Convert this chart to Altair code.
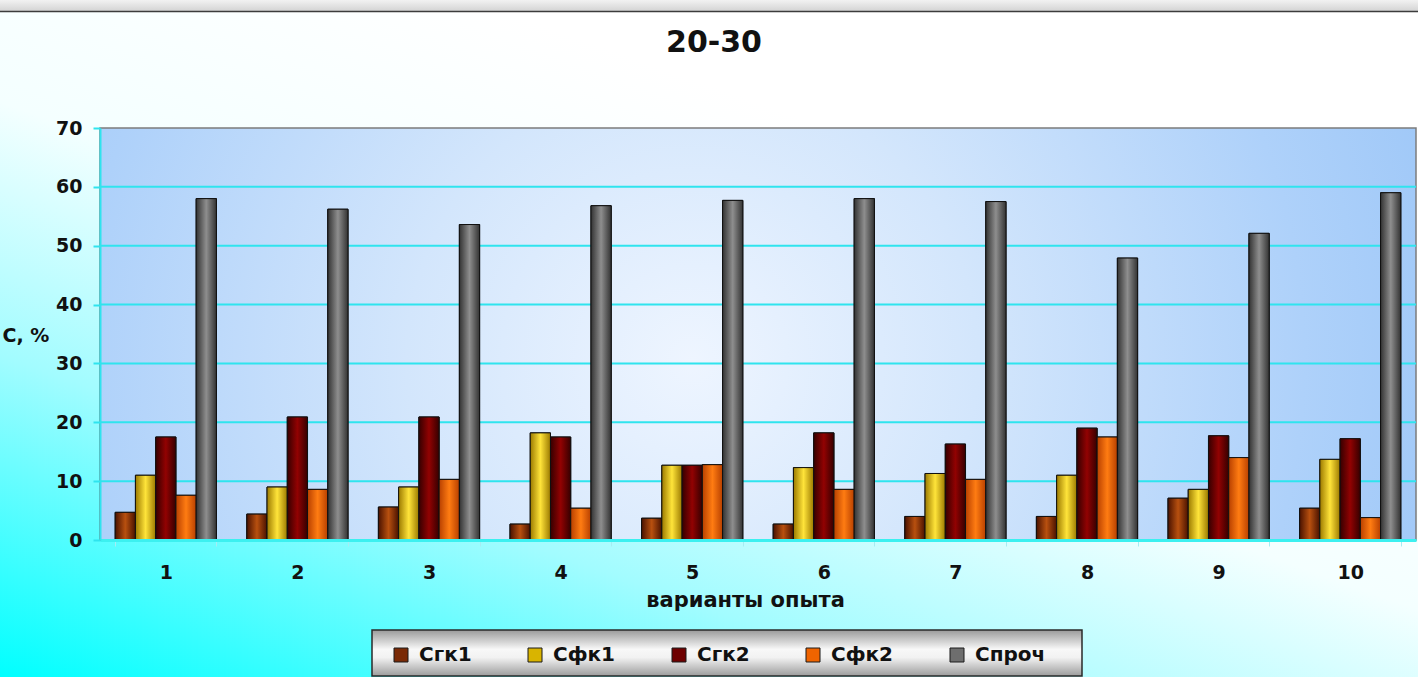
import altair as alt
import pandas as pd

# Experiment variants and fractions (%), layer 20-30
VARIANTS = ["1", "2", "3", "4", "5", "6", "7", "8", "9", "10"]
SERIES = ["Сгк1", "Сфк1", "Сгк2", "Сфк2", "Спроч"]

SGK1 = [4.7, 4.4, 5.6, 2.7, 3.7, 2.7, 4.0, 4.0, 7.1, 5.4]
SFK1 = [11.0, 9.0, 9.0, 18.2, 12.7, 12.3, 11.3, 11.0, 8.6, 13.7]
SGK2 = [17.5, 20.9, 20.9, 17.5, 12.7, 18.2, 16.3, 19.0, 17.7, 17.2]
SFK2 = [7.6, 8.6, 10.3, 5.4, 12.8, 8.6, 10.3, 17.5, 14.0, 3.8]
SPROCH = [58.0, 56.2, 53.6, 56.8, 57.7, 58.0, 57.5, 47.9, 52.1, 59.0]

Y_TICKS = [0, 10, 20, 30, 40, 50, 60, 70]
GRID_LINES = [10, 20, 30, 40, 50, 60]

SERIES_VALUES = [SGK1, SFK1, SGK2, SFK2, SPROCH]
LEGEND_COLORS = ["#7a2a06", "#d9b400", "#6e0000", "#f06400", "#6e6e6e"]
# (edge, centre) colours of the cylinder-like shading of each series
SHADES = [
    ("#4a1200", "#b8500f"),
    ("#9c7a00", "#ffe43a"),
    ("#360000", "#920202"),
    ("#b84000", "#ff7c12"),
    ("#333333", "#8e8e8e"),
]

rows = []
for name, vals in zip(SERIES, SERIES_VALUES):
    for v, val in zip(VARIANTS, vals):
        rows.append({"variant": v, "series": name, "value": val})
df = pd.DataFrame(rows)

W, H = 1316, 412
FONT = "DejaVu Sans"
CYAN = "#2fe4ee"
INK = "#111111"

x_axis = alt.Axis(
    title="варианты опыта",
    labelAngle=0,
    labelFont=FONT,
    labelFontSize=19,
    labelFontWeight="bold",
    labelColor=INK,
    labelBaseline="top",
    labelPadding=17,
    tickSize=6,
    tickColor="#a6ecf2",
    tickBand="extent",
    domainColor="#3cf0f0",
    domainWidth=3,
    titleFont=FONT,
    titleFontSize=21,
    titleFontWeight="bold",
    titleColor=INK,
    titleAlign="center",
    titleBaseline="alphabetic",
    titleX=645,
    titleY=66,
    grid=False,
    zindex=1,
)
y_axis = alt.Axis(
    title="С, %",
    values=Y_TICKS,
    labelFont=FONT,
    labelFontSize=19,
    labelFontWeight="bold",
    labelColor=INK,
    labelPadding=11,
    tickSize=7,
    tickColor=CYAN,
    tickWidth=2,
    domainColor=CYAN,
    domainWidth=2,
    titleFont=FONT,
    titleFontSize=19,
    titleFontWeight="bold",
    titleColor=INK,
    titleAngle=0,
    titleAlign="left",
    titleBaseline="middle",
    titleX=-98,
    titleY=207,
    grid=False,
    zindex=1,
)

x_scale = alt.Scale(domain=VARIANTS, paddingInner=0.2308, paddingOuter=0.1154)
y_scale = alt.Scale(domain=[0, 70], nice=False, zero=True)

x_enc = alt.X("variant:O", sort=VARIANTS, scale=x_scale, axis=x_axis)
off_enc = alt.XOffset(
    "series:N", sort=SERIES, scale=alt.Scale(domain=SERIES, paddingInner=0, paddingOuter=0)
)
y_enc = alt.Y("value:Q", scale=y_scale, axis=y_axis)

one = alt.Data(values=[{}])


def hgrad(edge, mid):
    return alt.LinearGradient(
        gradient="linear",
        stops=[
            alt.GradientStop(color=edge, offset=0),
            alt.GradientStop(color=mid, offset=0.5),
            alt.GradientStop(color=edge, offset=1),
        ],
        x1=0, x2=1, y1=0, y2=0,
    )


# whole-slide backdrop: cyan in the lower left fading to white
backdrop = alt.Chart(one).mark_rect(
    fill=alt.LinearGradient(
        gradient="linear",
        stops=[
            alt.GradientStop(color="#00ffff", offset=0),
            alt.GradientStop(color="#a2fcff", offset=0.38),
            alt.GradientStop(color="#f4ffff", offset=0.68),
            alt.GradientStop(color="#ffffff", offset=1),
        ],
        x1=0, y1=1, x2=0.6, y2=0.2,
    )
).encode(x=alt.value(-100), x2=alt.value(W + 2), y=alt.value(-128), y2=alt.value(H + 137))

band = alt.Chart(one).mark_rect(
    fill=alt.LinearGradient(
        gradient="linear",
        stops=[
            alt.GradientStop(color="#f2f2f2", offset=0),
            alt.GradientStop(color="#d4d4d4", offset=1),
        ],
        x1=0, y1=0, x2=0, y2=1,
    )
).encode(x=alt.value(-100), x2=alt.value(W + 2), y=alt.value(-128), y2=alt.value(-117))

band_line = alt.Chart(one).mark_rule(color="#3c3c3c", strokeWidth=1.5).encode(
    x=alt.value(-100), x2=alt.value(W + 2), y=alt.value(-116.5)
)

plot_bg = alt.Chart(one).mark_rect(
    fill=alt.RadialGradient(
        gradient="radial",
        stops=[
            alt.GradientStop(color="#eef5ff", offset=0),
            alt.GradientStop(color="#d3e6fc", offset=0.35),
            alt.GradientStop(color="#aed1fa", offset=0.75),
            alt.GradientStop(color="#9cc6f7", offset=1),
        ],
        x1=0.45, y1=0.52, r1=0, x2=0.45, y2=0.52, r2=0.62,
    ),
    stroke="#7c7c7c",
    strokeWidth=1.5,
).encode(x=alt.value(0), x2=alt.value(W), y=alt.value(0), y2=alt.value(H))

grid = alt.Chart(pd.DataFrame({"value": GRID_LINES})).mark_rule(
    color=CYAN, strokeWidth=2
).encode(y=y_enc)

bars = alt.Chart(df).mark_bar(stroke=INK, strokeWidth=1).encode(
    x=x_enc,
    xOffset=off_enc,
    y=y_enc,
    color=alt.Color(
        "series:N",
        scale=alt.Scale(domain=SERIES, range=LEGEND_COLORS),
        legend=alt.Legend(
            title=None,
            orient="none",
            direction="horizontal",
            legendX=291,
            legendY=517,
            padding=0,
            symbolType="square",
            symbolSize=196,
            symbolStrokeColor="#1a1a1a",
            symbolStrokeWidth=1,
            symbolOpacity=1,
            labelFont=FONT,
            labelFontSize=20,
            labelFontWeight="bold",
            labelColor=INK,
            labelOffset=8,
            columnPadding=53,
            zindex=1,
        ),
    ),
)

shaded = []
for name, (edge, mid) in zip(SERIES, SHADES):
    shaded.append(
        alt.Chart(df)
        .transform_filter(alt.datum.series == name)
        .mark_bar(fill=hgrad(edge, mid), stroke=INK, strokeWidth=1)
        .encode(x=x_enc, xOffset=off_enc, y=y_enc)
    )

legend_box = alt.Chart(one).mark_rect(
    fill=alt.LinearGradient(
        gradient="linear",
        stops=[
            alt.GradientStop(color="#9a9a9a", offset=0),
            alt.GradientStop(color="#f8f8f8", offset=0.42),
            alt.GradientStop(color="#f2f2f2", offset=0.6),
            alt.GradientStop(color="#9c9c9c", offset=1),
        ],
        x1=0, y1=0, x2=0, y2=1,
    ),
    stroke="#2a2a2a",
    strokeWidth=1.5,
).encode(x=alt.value(272), x2=alt.value(982), y=alt.value(502), y2=alt.value(548))

chart = (
    alt.layer(backdrop, band, band_line, plot_bg, grid, bars, *shaded, legend_box)
    .properties(
        width=W,
        height=H,
        title=alt.Title(
            "20-30",
            font=FONT,
            fontSize=30,
            fontWeight="bold",
            color=INK,
            anchor="middle",
            frame="group",
            baseline="alphabetic",
            offset=-82,
            dx=-44,
        ),
        autosize=alt.AutoSizeParams(type="none"),
        padding={"left": 100, "top": 128, "right": 2, "bottom": 137},
    )
    .configure_view(stroke=None)
    .configure(background="#ffffff")
)

chart.save("out.html", embed_options={"renderer": "svg", "actions": False})
